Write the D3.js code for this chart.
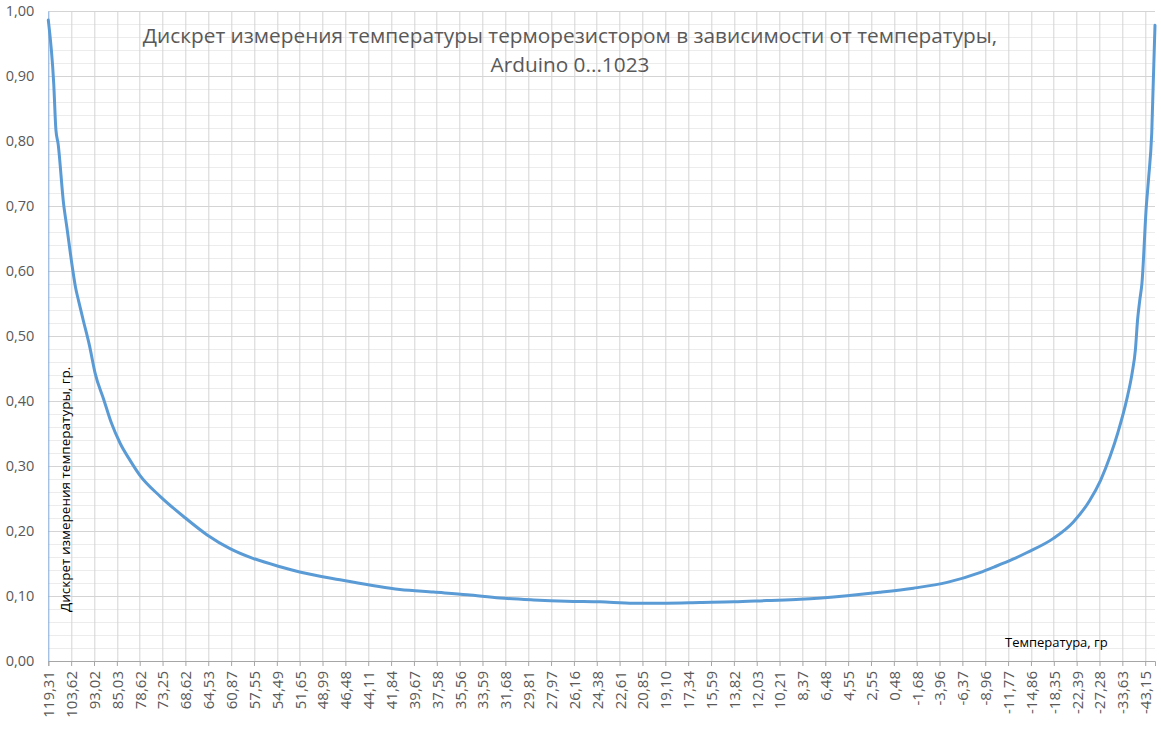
<!DOCTYPE html>
<html>
<head>
<meta charset="utf-8">
<script src="https://cdn.jsdelivr.net/npm/d3@7"></script>
<style>
    body { margin: 0; background: #fff; }
    svg text { font-family: "Open Sans", "Noto Sans", sans-serif; }
    .axis-title { fill: #000; }
    .chart-title { fill: #595959; }
</style>
</head>
<body>
<svg id="chart"></svg>
<script>
// Temperature labels shown under the x axis (every 21st ADC reading)
const xLabels = ["119,31", "103,62", "93,02", "85,03", "78,62", "73,25", "68,62", "64,53", "60,87", "57,55",
    "54,49", "51,65", "48,99", "46,48", "44,11", "41,84", "39,67", "37,58", "35,56", "33,59",
    "31,68", "29,81", "27,97", "26,16", "24,38", "22,61", "20,85", "19,10", "17,34", "15,59",
    "13,82", "12,03", "10,21", "8,37", "6,48", "4,55", "2,55", "0,48", "-1,68", "-3,96",
    "-6,37", "-8,96", "-11,77", "-14,86", "-18,35", "-22,39", "-27,28", "-33,63", "-43,15"];
const labelStep = 21;       // categories between two shown labels
const lastCategory = 1017;  // last ADC reading in the series

// Readings taken off the curve: category number and temperature step, deg.
const sampleIndex = [0, 5, 7, 9, 14, 17, 22, 25, 28, 32, 38, 43, 51, 58, 66, 75, 84, 103, 126, 146,
    167, 188, 213, 231, 268, 323, 354, 385, 415, 446, 476, 507, 538, 568, 599, 630, 660, 691, 734, 764,
    795, 826, 856, 869, 887, 899, 924, 942, 957, 967, 976, 983, 991, 996, 999, 1001, 1003, 1005, 1009, 1011,
    1014, 1017];
const discretValue = [0.986, 0.888, 0.817, 0.796, 0.704, 0.668, 0.607, 0.575, 0.553, 0.525, 0.484, 0.443, 0.402, 0.366, 0.335, 0.309, 0.286, 0.253, 0.220, 0.194,
    0.173, 0.158, 0.145, 0.137, 0.125, 0.110, 0.106, 0.102, 0.097, 0.094, 0.092, 0.091, 0.089, 0.089, 0.090, 0.091, 0.093, 0.095, 0.1005, 0.1056,
    0.112, 0.121, 0.136, 0.1445, 0.157, 0.1665, 0.189, 0.214, 0.247, 0.278, 0.316, 0.352, 0.402, 0.443, 0.479, 0.525, 0.555, 0.581, 0.699, 0.740,
    0.812, 0.978];

const yMajorTicks = [0, 0.1, 0.2, 0.3, 0.4, 0.5, 0.6, 0.7, 0.8, 0.9, 1.0];

const titleLines = ["Дискрет измерения температуры терморезистором в зависимости от температуры,", "Arduino 0...1023"];
const xTitle = "Температура, гр";
const yTitle = "Дискрет измерения температуры, гр.";

class DiscretChart {
    constructor(_config) {
        this.config = {
            parentElement: _config.parentElement,
            containerWidth: _config.containerWidth || 1161,
            containerHeight: _config.containerHeight || 731,
            margin: _config.margin || { top: 11, right: 6, bottom: 70, left: 48.3 },
            lineColor: _config.lineColor || "#5b9bd5"
        }
        this.initVis();
    }

    initVis() {
        let vis = this;

        vis.width = vis.config.containerWidth - vis.config.margin.left - vis.config.margin.right;
        vis.height = vis.config.containerHeight - vis.config.margin.top - vis.config.margin.bottom;

        vis.data = sampleIndex.map((idx, i) => ({ idx: idx, value: discretValue[i] }));
        vis.tickIdx = xLabels.map((d, i) => i * labelStep);

        vis.xScale = d3.scaleLinear()
            .domain([0, lastCategory])
            .range([0, vis.width]);

        vis.yScale = d3.scaleLinear()
            .domain([0, 1])
            .range([vis.height, 0]);

        vis.svg = d3.select(vis.config.parentElement)
            .attr("width", vis.config.containerWidth)
            .attr("height", vis.config.containerHeight);

        vis.chart = vis.svg.append("g")
            .attr("transform", `translate(${vis.config.margin.left},${vis.config.margin.top})`);

        vis.renderVis();
    }

    renderVis() {
        let vis = this;
        const comma = d => d3.format(".2f")(d).replace(".", ",");

        // minor horizontal gridlines (0.02 step)
        vis.chart.append("g")
            .selectAll("line")
            .data(vis.yScale.ticks(50))
            .join("line")
            .attr("x1", 0)
            .attr("x2", vis.width)
            .attr("y1", d => Math.round(vis.yScale(d)) + 0.5)
            .attr("y2", d => Math.round(vis.yScale(d)) + 0.5)
            .attr("stroke", "#ececec");

        // major horizontal gridlines
        vis.chart.append("g")
            .selectAll("line")
            .data(yMajorTicks)
            .join("line")
            .attr("x1", 0)
            .attr("x2", vis.width)
            .attr("y1", d => Math.round(vis.yScale(d)) + 0.5)
            .attr("y2", d => Math.round(vis.yScale(d)) + 0.5)
            .attr("stroke", "#d4d4d4");

        // vertical gridlines on each labelled category
        vis.chart.append("g")
            .selectAll("line")
            .data(vis.tickIdx.slice(1))
            .join("line")
            .attr("x1", d => Math.round(vis.xScale(d)) + 0.5)
            .attr("x2", d => Math.round(vis.xScale(d)) + 0.5)
            .attr("y1", 0)
            .attr("y2", vis.height)
            .attr("stroke", "#d4d4d4");

        // x axis
        vis.xAxis = d3.axisBottom(vis.xScale)
            .tickValues(vis.tickIdx)
            .tickFormat((d, i) => xLabels[i])
            .tickSizeOuter(0)
            .tickSize(5);

        vis.xAxisG = vis.chart.append("g")
            .attr("class", "axis x-axis")
            .attr("transform", `translate(0,${vis.height})`)
            .call(vis.xAxis);
        vis.xAxisG.select(".domain").attr("stroke", "#a6a6a6");
        vis.xAxisG.selectAll(".tick line").attr("stroke", "#a6a6a6");
        vis.xAxisG.selectAll("text")
            .attr("transform", "rotate(-90)")
            .attr("x", -10)
            .attr("y", 0)
            .attr("dy", "0.36em")
            .style("text-anchor", "end")
            .style("font-size", "15px")
            .attr("fill", "#595959");

        // y axis
        vis.yAxis = d3.axisLeft(vis.yScale)
            .tickValues(yMajorTicks)
            .tickFormat(comma)
            .tickSize(0)
            .tickPadding(14);

        vis.yAxisG = vis.chart.append("g")
            .attr("class", "axis y-axis")
            .call(vis.yAxis);
        vis.yAxisG.select(".domain").attr("stroke", "#7ea7d8");
        vis.yAxisG.selectAll("text")
            .style("font-size", "14.5px")
            .attr("fill", "#595959");

        // the series line
        vis.line = d3.line()
            .x(d => vis.xScale(d.idx))
            .y(d => vis.yScale(d.value))
            .curve(d3.curveMonotoneX);

        vis.chart.append("path")
            .datum(vis.data)
            .attr("d", vis.line)
            .attr("fill", "none")
            .attr("stroke", vis.config.lineColor)
            .attr("stroke-width", 3)
            .attr("stroke-linejoin", "round")
            .attr("stroke-linecap", "round");

        // titles
        vis.svg.append("g")
            .selectAll("text")
            .data(titleLines)
            .join("text")
            .attr("class", "chart-title")
            .attr("x", 570)
            .attr("y", (d, i) => 43 + i * 29)
            .style("text-anchor", "middle")
            .style("font-size", "20.8px")
            .text(d => d);

        vis.svg.append("text")
            .attr("class", "axis-title")
            .attr("x", 1005)
            .attr("y", 647)
            .style("font-size", "13px")
            .text(xTitle);

        vis.svg.append("text")
            .attr("class", "axis-title")
            .attr("transform", "translate(70,612) rotate(-90)")
            .style("font-size", "13.5px")
            .text(yTitle);
    }
}

new DiscretChart({ parentElement: "#chart" });
</script>
</body>
</html>
